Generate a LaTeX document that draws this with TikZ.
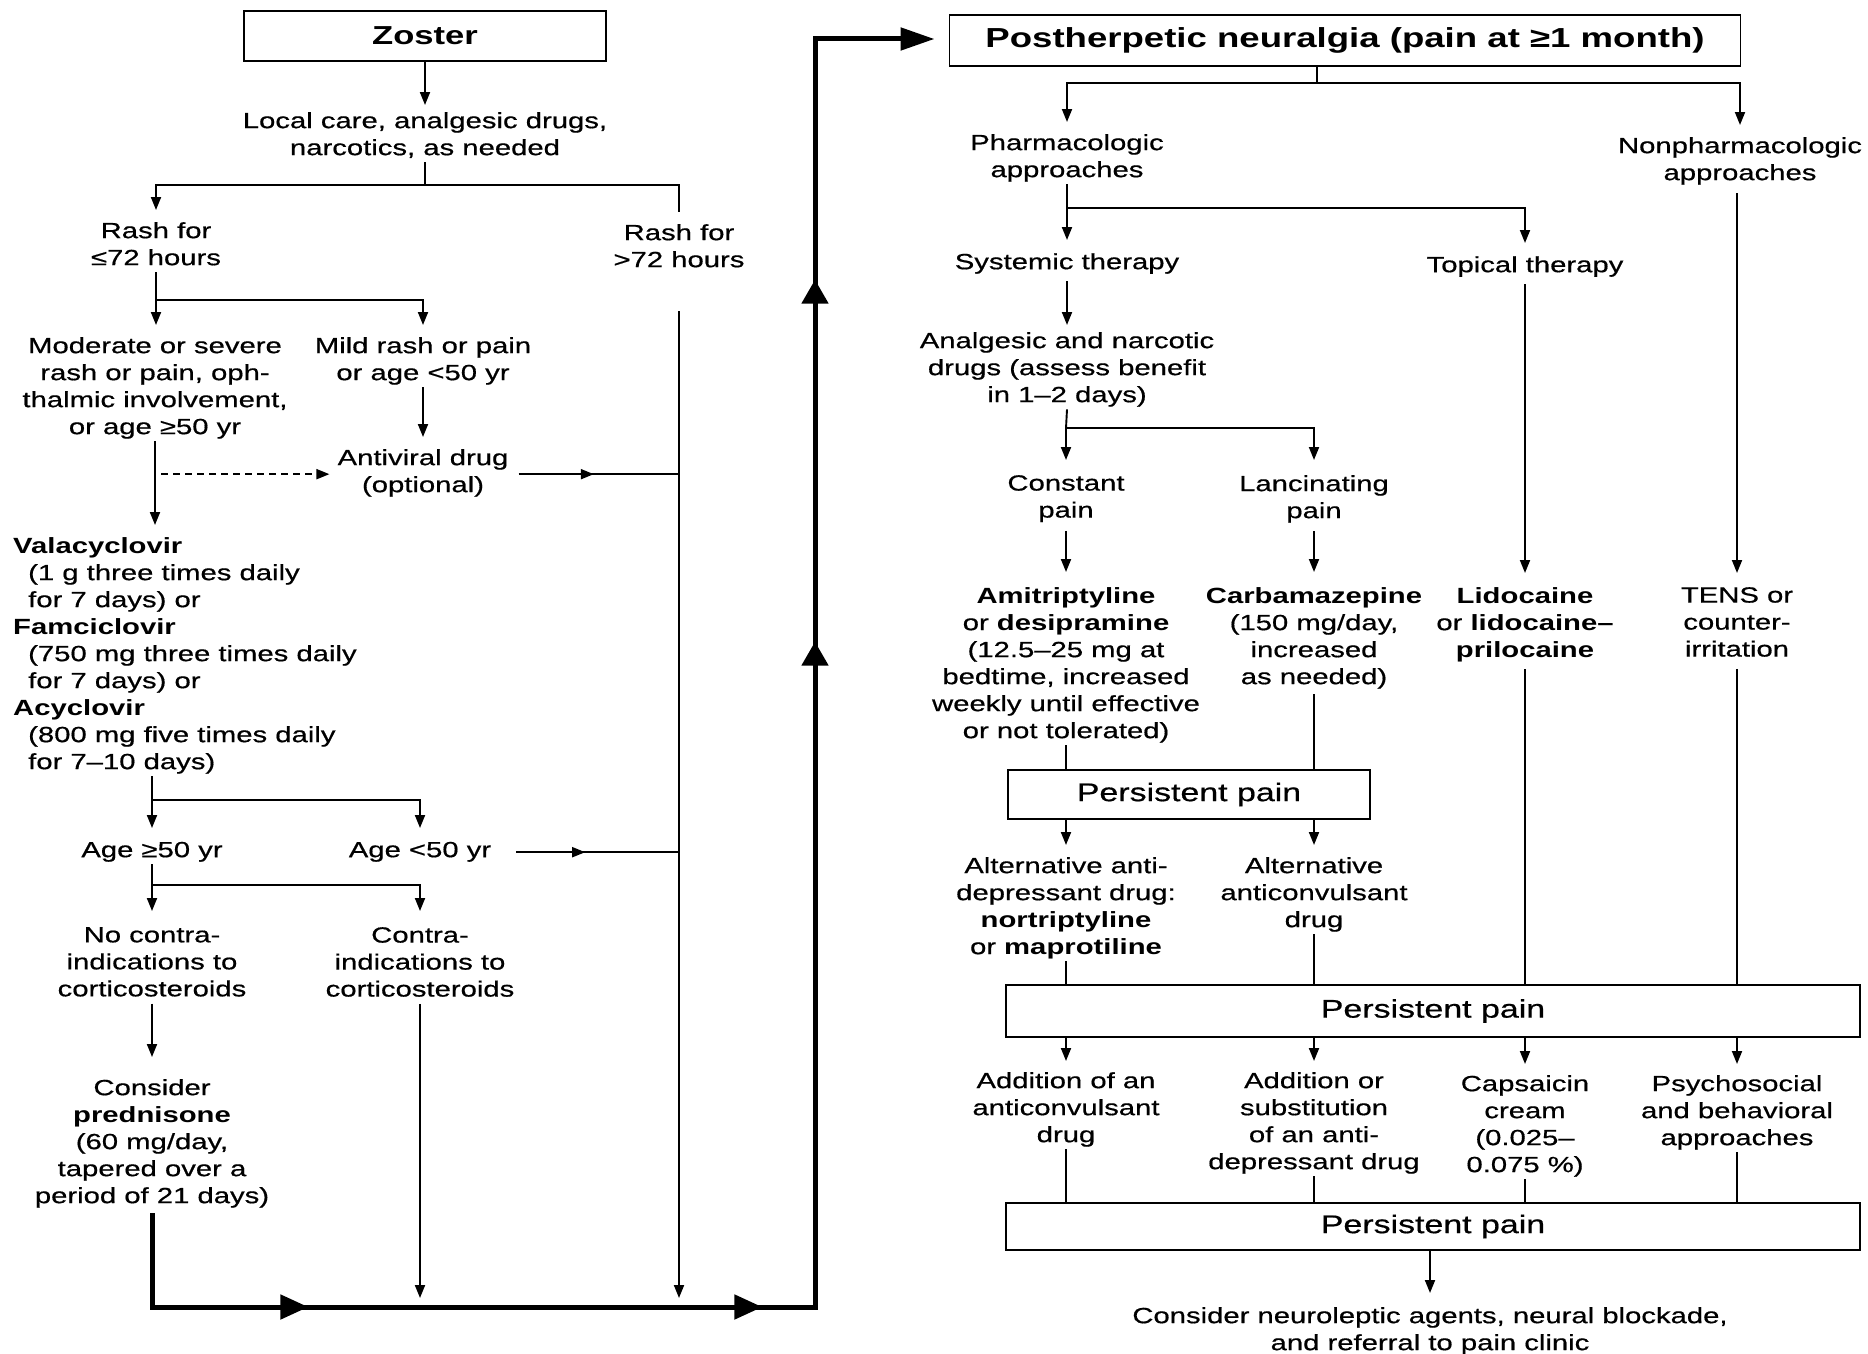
\documentclass[tikz,border=0pt]{standalone}
\usepackage{fontspec}
\setmainfont{Liberation Sans}[FakeStretch=1.33, UprightFeatures={FakeBold=0.6}]
\usetikzlibrary{arrows.meta,decorations.markings,calc}
\newcommand\mystrutA{\rule{0pt}{17pt}}
\newcommand\mystrutB{\rule[-7pt]{0pt}{7pt}}
\tikzset{
  ln/.style={line width=1.9pt},
  arr/.style={ln, -{Triangle[length=13pt,width=10pt]}, shorten >=12pt},
  midarr/.style={postaction={decorate}, decoration={markings, mark=at position 0.5 with {\arrow{Triangle[length=13pt,width=10pt]}}}},
  thk/.style={line width=5pt},
  tx/.style={inner sep=0pt, align=center, anchor=north, font=\fontsize{22}{27}\selectfont,
     execute at begin node=\mystrutA, execute at end node=\mystrutB},
  bx/.style={draw, line width=1.9pt, inner sep=0pt},
}
\begin{document}
\begin{tikzpicture}[x=1pt,y=-1pt]
\fill[white] (0,0) rectangle (1868,1354);
\useasboundingbox (0,0) rectangle (1868,1354);

% ---------------- left part ----------------
\node[bx, font=\bfseries\fontsize{26}{30}\selectfont, minimum width=362pt, minimum height=50pt] (zoster) at (425,36) {Zoster};
\node[tx] (local) at (425,112) {Local care, analgesic drugs,\\narcotics, as needed};
\node[tx] (rash1) at (156,222) {Rash for\\≤72 hours};
\node[tx] (rash2) at (679,224) {Rash for\\>72 hours};
\node[tx] (moderate) at (155,337) {Moderate or severe\\rash or pain, oph-\\thalmic involvement,\\or age ≥50 yr};
\node[tx] (mild) at (423,337) {Mild rash or pain\\or age <50 yr};
\node[tx] (antiviral) at (423,449) {Antiviral drug\\(optional)};
\node[tx, align=left, anchor=north west] (vala) at (13,537) {\textbf{Valacyclovir}\\
\hspace*{15pt}(1 g three times daily\\
\hspace*{15pt}for 7 days) or\\
\textbf{Famciclovir}\\
\hspace*{15pt}(750 mg three times daily\\
\hspace*{15pt}for 7 days) or\\
\textbf{Acyclovir}\\
\hspace*{15pt}(800 mg five times daily\\
\hspace*{15pt}for 7–10 days)};
\node[tx] (agege) at (152,840) {Age ≥50 yr};
\node[tx] (agelt) at (420,840) {Age <50 yr};
\node[tx] (nocontra) at (152,927) {No contra-\\indications to\\corticosteroids};
\node[tx] (contra) at (420,927) {Contra-\\indications to\\corticosteroids};
\node[tx] (consider) at (152,1079) {Consider\\\textbf{prednisone}\\(60 mg/day,\\tapered over a\\period of 21 days)};

% ---------------- right part nodes ----------------
\node[bx, font=\bfseries\fontsize{27.5}{33}\selectfont, minimum width=791pt, minimum height=51pt] (title) at (1345,40.5) {Postherpetic neuralgia (pain at ≥1 month)};
\node[tx] (pharm) at (1067,134) {Pharmacologic\\approaches};
\node[tx] (nonpharm) at (1740,137) {Nonpharmacologic\\approaches};
\node[tx] (systemic) at (1067,252) {Systemic therapy};
\node[tx] (topical) at (1525,255) {Topical therapy};
\node[tx] (analgesic) at (1067,332) {Analgesic and narcotic\\drugs (assess benefit\\in 1–2 days)};
\node[tx] (constant) at (1066,475) {Constant\\pain};
\node[tx] (lanc) at (1314,475) {Lancinating\\pain};
\node[tx] (amitrip) at (1066,587) {\textbf{Amitriptyline}\\or \textbf{desipramine}\\(12.5–25 mg at\\bedtime, increased\\weekly until effective\\or not tolerated)};
\node[tx] (carba) at (1314,587) {\textbf{Carbamazepine}\\(150 mg/day,\\increased\\as needed)};
\node[tx] (lido) at (1525,587) {\textbf{Lidocaine}\\or \textbf{lidocaine–}\\\textbf{prilocaine}};
\node[tx] (tens) at (1737,587) {TENS or\\counter-\\irritation};
\node[bx, font=\fontsize{25.5}{30}\selectfont, minimum width=362pt, minimum height=49pt] (pp1) at (1189,794.5) {Persistent pain};
\node[tx] (altanti) at (1066,857) {Alternative anti-\\depressant drug:\\\textbf{nortriptyline}\\or \textbf{maprotiline}};
\node[tx] (altconv) at (1314,857) {Alternative\\anticonvulsant\\drug};
\node[bx, font=\fontsize{25.5}{30}\selectfont, minimum width=854pt, minimum height=52pt] (pp2) at (1433,1011) {Persistent pain};
\node[tx] (addan) at (1066,1072) {Addition of an\\anticonvulsant\\drug};
\node[tx] (addor) at (1314,1072) {Addition or\\substitution\\of an anti-\\depressant drug};
\node[tx] (caps) at (1525,1075) {Capsaicin\\cream\\(0.025–\\0.075 \%)};
\node[tx] (psycho) at (1737,1075) {Psychosocial\\and behavioral\\approaches};
\node[bx, font=\fontsize{25.5}{30}\selectfont, minimum width=854pt, minimum height=47pt] (pp3) at (1433,1226.5) {Persistent pain};
\node[tx] (final) at (1430,1307) {Consider neuroleptic agents, neural blockade,\\and referral to pain clinic};

% ---------------- left connectors ----------------
\coordinate (b1) at (425,185);
\coordinate (b2) at (156,300);
\coordinate (b3) at (152,800);
\coordinate (b4) at (152,885);
\coordinate (c1) at (152,1307);
\coordinate (c2) at (815,1307);
\coordinate (c3) at (815,39);

\draw[arr, shorten >=7pt] (zoster.south) -- (local.north);
\draw[ln] (local.south) -- (b1);
\draw[arr] (b1) -| (rash1.north);
\draw[ln, shorten >=12pt] (b1) -| (rash2.north);
\draw[ln] (rash1.south) -- (b2);
\draw[arr] (b2) -- (b2 |- moderate.north);
\draw[arr] (b2) -| (mild.north);
\draw[arr] (mild.south) -- (antiviral.north);
\draw[arr] (moderate.south) -- (moderate.south |- vala.north);
\draw[arr, dashed, dash pattern=on 7pt off 5pt, shorten <=6pt, shorten >=8pt] (moderate.south |- antiviral.west) -- (antiviral.west);
\draw[ln, midarr, shorten <=10pt] (antiviral.east) -- (antiviral.east -| rash2.south);
\draw[arr, shorten <=37pt, shorten >=9pt] (rash2.south) -- (rash2.south |- c1);
\draw[ln] (vala.south -| b3) -- (b3);
\draw[arr] (b3) -- (agege.north);
\draw[arr] (b3) -| (agelt.north);
\draw[ln, midarr, shorten <=25pt] (agelt.east) -- (agelt.east -| rash2.south);
\draw[ln] (agege.south) -- (b4);
\draw[arr, shorten >=16pt] (b4) -- (nocontra.north);
\draw[arr, shorten >=16pt] (b4) -| (contra.north);
\draw[arr, shorten >=22pt] (nocontra.south) -- (consider.north);
\draw[arr, shorten >=9pt] (contra.south) -- (contra.south |- c1);

% thick path to the right part
\draw[thk, -{Triangle[length=34pt,width=22pt]}, shorten >=14pt,
  postaction={decorate}, decoration={markings,
    mark=at position 250pt with {\arrow{Triangle[length=28pt,width=24pt]}},
    mark=at position 704pt with {\arrow{Triangle[length=28pt,width=24pt]}},
    mark=at position 1422pt with {\arrow{Triangle[length=24pt,width=26pt]}},
    mark=at position 1784pt with {\arrow{Triangle[length=24pt,width=26pt]}}}]
  ($(consider.south)+(0,3)$) -- (c1) -- (c2) -- (c3) -- (c3 -| title.west);

% ---------------- right connectors ----------------
\coordinate (t1) at (1317,83);
\coordinate (p1) at (1067,208);
\coordinate (p2) at (1066,428);

\draw[ln] (t1 |- title.south) -- (t1);
\draw[arr] (t1) -| (pharm.north);
\draw[arr] (t1) -| (nonpharm.north);
\draw[ln] (pharm.south) -- (p1);
\draw[arr] (p1) -- (systemic.north);
\draw[arr] (p1) -| (topical.north);
\draw[arr, shorten <=5pt, shorten >=7pt] (systemic.south) -- (analgesic.north);
\draw[arr, shorten <=5pt, shorten >=14pt] (topical.south) -- (lido.north);
\draw[arr, shorten <=6pt, shorten >=14pt] (nonpharm.south -| tens.north) -- (tens.north);
\draw[ln] (analgesic.south) -- (p2);
\draw[arr, shorten >=15pt] (p2) -- (constant.north);
\draw[arr, shorten >=15pt] (p2) -| (lanc.north);
\draw[arr, shorten <=6pt, shorten >=15pt] (constant.south) -- (amitrip.north);
\draw[arr, shorten <=6pt, shorten >=15pt] (lanc.south) -- (carba.north);
\draw[ln] (amitrip.south) -- (amitrip.south |- pp1.north);
\draw[ln, shorten <=3pt] (carba.south) -- (carba.south |- pp1.north);
\draw[arr] (pp1.south -| altanti.north) -- (altanti.north);
\draw[arr] (pp1.south -| altconv.north) -- (altconv.north);
\draw[ln, shorten <=5pt] (lido.south) -- (lido.south |- pp2.north);
\draw[ln, shorten <=5pt] (tens.south) -- (tens.south |- pp2.north);
\draw[ln] (altanti.south) -- (altanti.south |- pp2.north);
\draw[ln] (altconv.south) -- (altconv.south |- pp2.north);
\draw[arr, shorten >=11pt] (pp2.south -| addan.north) -- (addan.north);
\draw[arr, shorten >=11pt] (pp2.south -| addor.north) -- (addor.north);
\draw[arr, shorten >=11pt] (pp2.south -| caps.north) -- (caps.north);
\draw[arr, shorten >=11pt] (pp2.south -| psycho.north) -- (psycho.north);
\draw[ln] (addan.south) -- (addan.south |- pp3.north);
\draw[ln] (addor.south) -- (addor.south |- pp3.north);
\draw[ln] (caps.south) -- (caps.south |- pp3.north);
\draw[ln] (psycho.south) -- (psycho.south |- pp3.north);
\draw[arr, shorten >=14pt] (pp3.south -| final.north) -- (final.north);
\end{tikzpicture}
\end{document}
